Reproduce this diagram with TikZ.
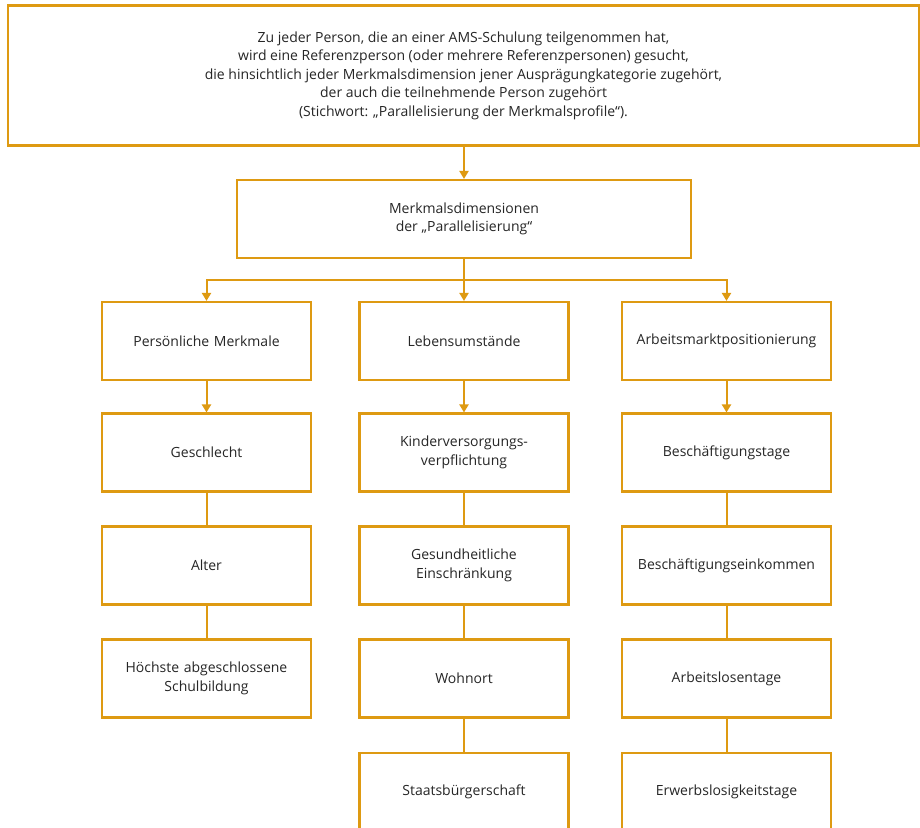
\documentclass[tikz,border=0pt]{standalone}
\usepackage{fontspec}
\setmainfont{Open Sans}
\usetikzlibrary{arrows.meta}
\definecolor{ams}{HTML}{DE9A12}
\definecolor{txt}{HTML}{262626}
\tikzset{
  box/.style={draw=ams, line width=2.1bp, fill=white, rectangle, align=center,
    text=txt, font=\fontsize{14bp}{18.5bp}\selectfont, inner sep=0pt},
  cbox/.style={box, minimum width=209bp, minimum height=78bp, text width=205bp},
  conn/.style={draw=ams, line width=2bp},
  arr/.style={conn, -{Triangle[width=9bp,length=8bp]}}
}
\begin{document}
\begin{tikzpicture}[x=1bp,y=-1bp]
\useasboundingbox (0,0) rectangle (920,828);
\clip (0,0) rectangle (920,828);
\node[box, minimum width=911bp, minimum height=140bp] (top) at (463.5,75.5)
 {Zu jeder Person, die an einer AMS-Schulung teilgenommen hat,\\
  wird eine Referenzperson (oder mehrere Referenzpersonen) gesucht,\\
  die hinsichtlich jeder Merkmalsdimension jener Ausprägungkategorie zugehört,\\
  der auch die teilnehmende Person zugehört\\
  (Stichwort: „Parallelisierung der Merkmalsprofile“).};
\node[box, minimum width=454bp, minimum height=78bp] (mid) at (464,219)
 {Merkmalsdimensionen\\der „Parallelisierung“};
% column 1
\node[cbox] (pm) at (206.5,341) {Persönliche Merkmale};
\node[cbox] (ge) at (206.5,452.5) {Geschlecht};
\node[cbox] (al) at (206.5,565.5) {Alter};
\node[cbox] (hs) at (206.5,678.5) {Höchste abgeschlossene\\Schulbildung};
% column 2
\node[cbox] (lu) at (464,341) {Lebensumstände};
\node[cbox] (kv) at (464,452.5) {Kinderversorgungs-\\verpflichtung};
\node[cbox] (gs) at (464,565.5) {Gesundheitliche\\Einschränkung};
\node[cbox] (wo) at (464,678.5) {Wohnort};
\node[cbox] (sb) at (464,792) {Staatsbürgerschaft};
% column 3
\node[cbox] (am) at (726.5,341) {Arbeitsmarktpositionierung};
\node[cbox] (bt) at (726.5,452.5) {Beschäftigungstage};
\node[cbox] (be) at (726.5,565.5) {Beschäftigungseinkommen};
\node[cbox] (at) at (726.5,678.5) {Arbeitslosentage};
\node[cbox] (et) at (726.5,792) {Erwerbslosigkeitstage};
% connectors
\draw[arr] (top.south -| mid.north) -- (mid.north);
\coordinate (br) at (464,280);
\draw[conn] (mid.south) -- (br);
\draw[arr] (br) -| (pm.north);
\draw[arr] (br) -| (am.north);
\draw[arr] (br) -- (lu.north);
\draw[arr] (pm) -- (ge);
\draw[conn] (ge) -- (al);
\draw[conn] (al) -- (hs);
\draw[arr] (lu) -- (kv);
\draw[conn] (kv) -- (gs);
\draw[conn] (gs) -- (wo);
\draw[conn] (wo) -- (sb);
\draw[arr] (am) -- (bt);
\draw[conn] (bt) -- (be);
\draw[conn] (be) -- (at);
\draw[conn] (at) -- (et);
\end{tikzpicture}
\end{document}
